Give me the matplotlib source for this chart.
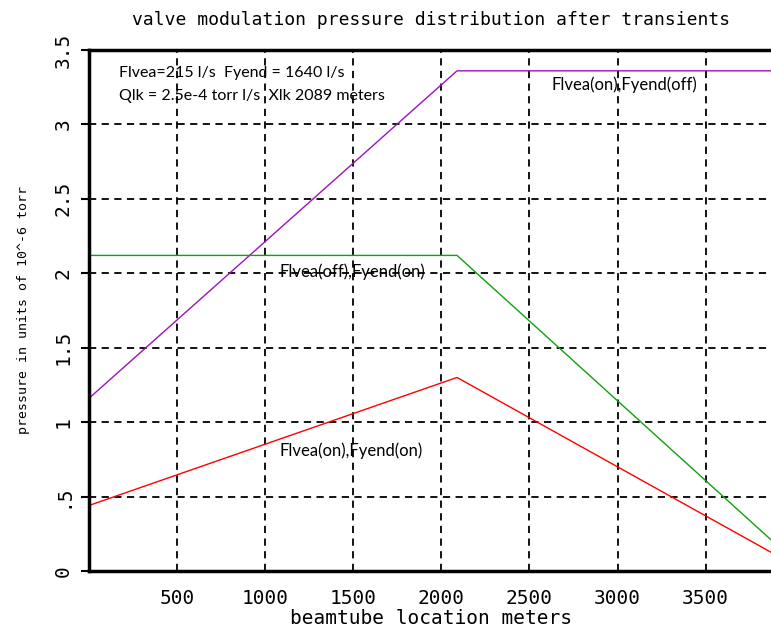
# import libraries
import numpy as np
import matplotlib
matplotlib.use("Agg")
import matplotlib.pyplot as plt

# pressure profile along the beamtube (units of 1e-6 torr)
x_pts = [0, 2089, 3880]
p_on_off = [1.16, 3.36, 3.36]    # Flvea(on),Fyend(off)
p_off_on = [2.12, 2.12, 0.20]    # Flvea(off),Fyend(on)
p_on_on = [0.44, 1.30, 0.12]     # Flvea(on),Fyend(on)

x_ticks = [500, 1000, 1500, 2000, 2500, 3000, 3500]
y_ticks = [0, 0.5, 1, 1.5, 2, 2.5, 3, 3.5]
y_tick_labels = ["0", ".5", "1", "1.5", "2", "2.5", "3", "3.5"]

mono = "DejaVu Sans Mono"
sans = ["Lato", "DejaVu Sans"]

fig = plt.figure(figsize=(7.71, 6.28), dpi=100)
ax = fig.add_axes([0.1154, 0.0908, 0.8846 + 0.002, 0.8296])

ax.plot(x_pts, p_on_off, c="#a010c0", lw=1)
ax.plot(x_pts, p_off_on, c="#10a010", lw=1)
ax.plot(x_pts, p_on_on, c="#ff0000", lw=1)

ax.set_xlim(0, 3880)
ax.set_ylim(0, 3.5)

# dashed grid
for xv in x_ticks:
    ax.axvline(xv, c="k", lw=1.3, ls=(0, (4, 3)), zorder=0)
for yv in y_ticks[1:-1]:
    ax.axhline(yv, c="k", lw=1.3, ls=(0, (4, 3)), zorder=0)

ax.set_xticks(x_ticks)
ax.set_xticklabels([str(v) for v in x_ticks], fontfamily=mono, fontsize=14)
ax.tick_params(axis="x", length=0, pad=13)
ax.set_yticks(y_ticks)
ax.set_yticklabels(y_tick_labels, fontfamily=mono, fontsize=14,
                   rotation=90, va="center")
ax.tick_params(axis="y", length=6, width=1.5, direction="out", pad=6)

for side in ["left", "bottom", "top"]:
    ax.spines[side].set_linewidth(2.5)
ax.spines["right"].set_visible(False)

ax.set_title("valve modulation pressure distribution after transients",
             fontfamily=mono, fontsize=13, pad=18)
ax.set_xlabel("beamtube location meters", fontfamily=mono, fontsize=14,
              labelpad=1)
ax.set_ylabel("pressure in units of 10^-6 torr", fontfamily=mono,
              fontsize=9.5, labelpad=17)

ax.text(170, 3.345, "Flvea=215 l/s  Fyend = 1640 l/s", family=sans,
        fontsize=11.5, va="center")
ax.text(170, 3.19, "Qlk = 2.5e-4 torr l/s  Xlk 2089 meters", family=sans,
        fontsize=11.5, va="center")
ax.text(2625, 3.27, "Flvea(on),Fyend(off)", family=sans, fontsize=12,
        va="center")
ax.text(1080, 2.01, "Flvea(off),Fyend(on)", family=sans, fontsize=12,
        va="center")
ax.text(1080, 0.806, "Flvea(on),Fyend(on)", family=sans, fontsize=12,
        va="center")

fig.savefig("out.png", dpi=100)
